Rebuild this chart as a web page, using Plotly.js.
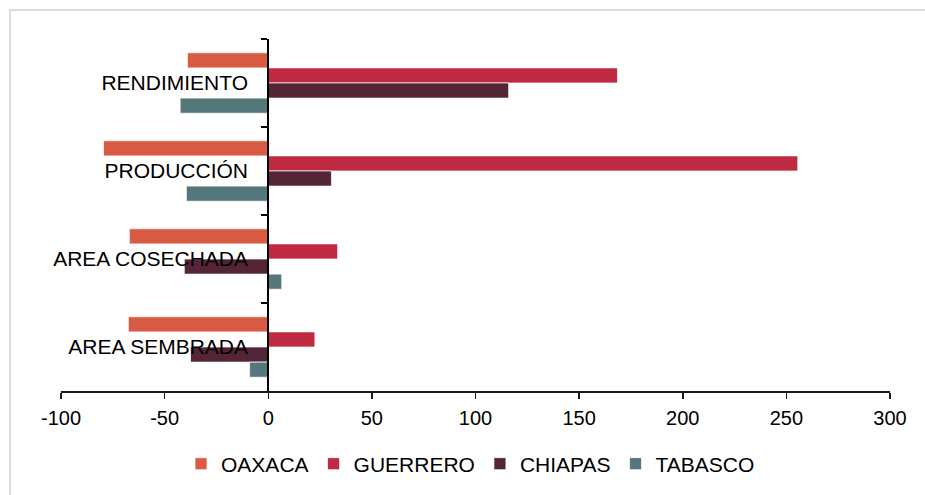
<!DOCTYPE html>
<html>
<head>
<meta charset="utf-8">
<script src="https://cdn.plot.ly/plotly-3.0.1.min.js"></script>
<style>
  html, body { margin: 0; padding: 0; background: #fff; }
  #wrap { position: relative; width: 925px; height: 495px; overflow: hidden; }
  #chart { width: 925px; height: 495px; }
  #frame { position: absolute; left: 9px; top: 9px; width: 1000px; height: 600px;
           border-left: 2px solid #dcdcdc; border-top: 2px solid #dcdcdc; pointer-events: none; }
</style>
</head>
<body>
<div id="wrap">
  <div id="chart"></div>
  <div id="frame"></div>
</div>
<script>
// Categories, listed top to bottom as drawn
const categories = ['RENDIMIENTO', 'PRODUCCIÓN', 'AREA COSECHADA', 'AREA SEMBRADA'];

// Series values
const oaxaca   = [-39, -79.5, -67, -67.5];
const guerrero = [168.5, 255.5, 33.5, 22.5];
const chiapas  = [116, 30.5, -40.5, -37.5];
const tabasco  = [-42.5, -39.5, 6.5, -9];

const seriesNames = ['OAXACA', 'GUERRERO', 'CHIAPAS', 'TABASCO'];
const seriesValues = [oaxaca, guerrero, chiapas, tabasco];
const seriesColors = ['#D95B43', '#C02942', '#542437', '#53777A'];

// x-axis ticks
const xRange = [-100, 300];
const xTickVals = [-100, -50, 0, 50, 100, 150, 200, 250, 300];
const xTickText = xTickVals.map(v => String(v));

const traces = seriesNames.map((name, i) => ({
  type: 'bar',
  orientation: 'h',
  name: name,
  x: seriesValues[i],
  y: categories,
  marker: { color: seriesColors[i], line: { color: 'rgba(255,255,255,0.7)', width: 1 } },
  hoverinfo: 'x+y+name'
}));

const zeroPos = (0 - xRange[0]) / (xRange[1] - xRange[0]);
const boundaries = [];
for (let k = 0; k <= categories.length; k++) boundaries.push(k - 0.5);

const fam = '"Liberation Sans", Arial, sans-serif';

const layout = {
  width: 925,
  height: 495,
  margin: { l: 60.5, r: 34.5, t: 39, b: 103, pad: 0 },
  paper_bgcolor: 'rgba(0,0,0,0)',
  plot_bgcolor: 'rgba(0,0,0,0)',
  font: { family: fam, size: 20, color: '#000' },
  barmode: 'group',
  bargap: 0.313,
  bargroupgap: 0,
  showlegend: true,
  legend: {
    orientation: 'h',
    x: 0.494, xanchor: 'center',
    y: -0.204, yanchor: 'middle',
    font: { family: fam, size: 21, color: '#000' },
    traceorder: 'normal'
  },
  xaxis: {
    range: xRange,
    tickmode: 'array',
    tickvals: xTickVals,
    ticktext: xTickText,
    showgrid: false,
    zeroline: false,
    showline: true,
    linecolor: '#1a1a1a',
    linewidth: 1.5,
    ticks: 'outside',
    ticklen: 6,
    tickwidth: 1.5,
    tickcolor: '#1a1a1a',
    tickfont: { family: fam, size: 20, color: '#000' },
    ticklabelstandoff: 2,
    fixedrange: true
  },
  xaxis2: {
    overlaying: 'x',
    anchor: 'y',
    side: 'bottom',
    range: xRange,
    tickmode: 'array',
    tickvals: xTickVals,
    showgrid: false,
    zeroline: false,
    showline: false,
    ticks: 'inside',
    ticklen: 6,
    tickwidth: 1.5,
    tickcolor: '#1a1a1a',
    showticklabels: false,
    fixedrange: true
  },
  yaxis: {
    type: 'category',
    autorange: 'reversed',
    anchor: 'free',
    position: zeroPos,
    showgrid: false,
    zeroline: false,
    showline: true,
    linecolor: '#000',
    linewidth: 2,
    ticks: 'outside',
    tickson: 'boundaries',
    ticklen: 6,
    tickwidth: 1.5,
    tickcolor: '#000',
    tickfont: { family: fam, size: 21, color: '#000' },
    ticklabelstandoff: 15,
    fixedrange: true
  },
  yaxis2: {
    overlaying: 'y',
    anchor: 'free',
    position: zeroPos,
    side: 'right',
    range: [categories.length - 0.5, -0.5],
    tickmode: 'array',
    tickvals: boundaries,
    showgrid: false,
    zeroline: false,
    showline: false,
    ticks: 'outside',
    ticklen: 6,
    tickwidth: 1.5,
    tickcolor: '#000',
    showticklabels: false,
    fixedrange: true
  }
};

Plotly.newPlot('chart', traces, layout, { displayModeBar: false, staticPlot: true });
</script>
</body>
</html>
